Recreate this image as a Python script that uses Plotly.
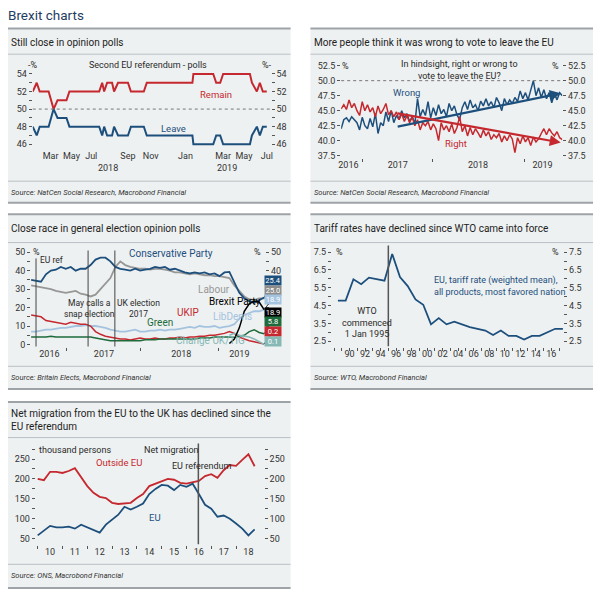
import plotly.graph_objects as go

W, H = 600, 597
def fx(p): return p / W
def fy(p): return 1 - p / H

FONT = "Roboto"
BLUE = "#1d4f7d"
RED = "#c5282f"
TXT = "#2a2a2a"
BG = "#eef1f1"

# ---------------- Panel 1 data: Second EU referendum polls ----------------
poll_idx = [0, 4, 7, 16, 21, 25, 34, 37, 67, 70, 72, 75, 80, 82, 86, 96, 99, 112, 115,
            161, 162, 182, 185, 189, 192, 219, 221, 226, 229, 232, 236]
remain = [52, 53, 52, 52, 50, 51, 51, 52, 52, 53, 52, 53, 53, 52, 53, 53, 52, 52, 53,
          53, 54, 54, 53, 53, 54, 54, 53, 52, 53, 52, 52]
leave = [48, 47, 48, 48, 50, 49, 49, 48, 48, 47, 48, 47, 47, 48, 47, 47, 48, 48, 47,
         47, 46, 46, 47, 47, 46, 46, 47, 48, 47, 48, 48]
p1_month_pos = [18, 39, 59, 96, 119, 154, 192, 213, 236]
p1_months = ["Mar", "May", "Jul", "Sep", "Nov", "Jan", "Mar", "May", "Jul"]
p1_year_pos = [76, 196]
p1_years = ["2018", "2019"]
p1_yticks = [46, 47, 48, 49, 50, 51, 52, 53, 54]
parity = 50

# ---------------- Panel 2 data: right or wrong to leave ----------------
wrong = [42.0, 43.5, 43.8, 43.2, 44.0, 43.5, 43.0, 41.8, 43.9, 42.5, 42.0, 43.7, 42.3, 44.5,
         41.2, 43.0, 42.5, 44.8, 43.2, 45.0, 43.0, 44.2, 43.5, 45.0, 43.8, 44.5, 43.2, 44.0,
         42.8, 47.0, 44.0, 45.2, 44.2, 46.5, 43.8, 45.5, 44.2, 46.0, 44.5, 45.2, 44.0, 46.2,
         45.0, 45.8, 44.3, 43.5, 45.5, 46.5, 45.2, 46.8, 45.5, 46.0, 45.0, 46.6, 45.8, 47.0,
         45.8, 46.5, 45.5, 47.2, 46.3, 45.0, 47.0, 46.0, 46.8, 46.2, 47.2, 46.5, 48.3, 47.0,
         48.0, 46.8, 48.5, 50.0, 47.5, 48.8, 47.2, 48.5, 47.0, 48.0, 46.3, 47.8, 46.8, 48.0, 47.5]
right = [45.3, 46.0, 45.2, 46.8, 45.5, 46.2, 45.0, 44.2, 46.5, 45.0, 46.0, 44.8, 45.5, 44.0,
         45.8, 44.5, 45.2, 46.2, 44.3, 45.0, 44.0, 44.8, 43.5, 44.5, 43.2, 44.2, 43.0, 44.0,
         42.5, 43.5, 41.8, 43.0, 42.5, 43.2, 41.8, 42.8, 42.0, 40.0, 43.0, 41.8, 42.5, 41.5,
         42.8, 41.2, 42.2, 44.0, 41.5, 42.5, 40.8, 42.2, 41.0, 42.0, 41.3, 40.5, 41.8, 40.8,
         41.5, 40.2, 41.0, 40.5, 41.2, 39.8, 40.8, 40.0, 41.0, 40.3, 38.0, 40.5, 39.5, 40.8,
         39.8, 40.5, 39.2, 40.6, 39.8, 40.3, 41.2, 42.0, 41.0, 42.0, 41.3, 40.8, 41.5, 40.5, 40.2]
p2_idx = list(range(len(wrong)))
trend_x = [20.9, 83.4]
wrong_trend = [42.3, 47.9]
right_trend = [44.6, 39.7]
p2_year_pos = [2.75, 21.5, 52, 76.5]
p2_years = ["2016", "2017", "2018", "2019"]
p2_year_breaks = [8.1, 34.6, 69.6]
p2_yticks = [37.5, 40.0, 42.5, 45.0, 47.5, 50.0, 52.5]

# ---------------- Panel 3 data: general election polls ----------------
conservative = [35, 34.5, 34, 38, 40, 40.5, 42, 41, 42, 40, 41, 41, 43, 46, 47, 47, 45, 42, 41, 40.5,
                40, 41, 40, 40.5, 41, 42, 41.5, 42, 40.5, 41, 40, 39, 38.5, 39, 38.5, 39, 38, 38.5,
                37, 39, 39.3, 34, 28, 25, 23.5, 22.5, 24, 25.4]
labour = [32, 31.5, 31, 30.5, 30, 29, 28.5, 28, 28.5, 29, 27.5, 27, 26, 27, 30, 33, 36, 42, 45, 43,
          42, 41.5, 41, 41, 40.5, 41, 41, 40.5, 40, 39, 39, 38.5, 38, 38.5, 38, 37.5, 37.5, 37,
          37, 36.5, 36, 32, 29, 26, 24.5, 24, 25, 25.0]
ukip = [16, 15.5, 15, 13, 12.5, 12, 11.5, 11, 12, 11.5, 11, 11, 10, 7, 5.5, 4.5, 4, 3.5, 3, 3,
        2.5, 3, 3.5, 3, 3, 3.5, 3, 3, 3.5, 3.5, 4, 3.5, 4, 4, 4.5, 4.5, 5, 5, 5.5, 6, 7, 6, 4,
        3, 2, 1.5, 1, 0.2]
libdem = [7, 7, 7.5, 8, 8, 8.5, 9, 9, 9.5, 10, 10, 10.5, 10, 10, 9.5, 9, 8, 7.5, 7, 7, 7.5, 8, 7,
          7, 7.5, 7.5, 8, 7.5, 8, 8, 8.5, 9, 9.5, 9, 10, 9.5, 9.5, 10, 9, 9.5, 10, 11, 14, 16, 17,
          18, 18, 18.9]
green = [4, 4, 4, 4, 4.5, 4, 4, 4, 4, 4, 4, 4, 4, 3.5, 3, 2.5, 2, 2, 2, 2, 2, 2, 2, 2.5, 2.5, 2.5,
         3, 3, 3, 3, 3, 3, 3, 3, 3.5, 3.5, 3.5, 4, 4, 4, 4, 4, 4.5, 5, 7, 8, 6.5, 5.8]
brexit = [None] * 40 + [0.5, 3, 9, 18, 22, 23.5, 23, 18.9]
changeuk = [None] * 40 + [5, 6, 5, 4.5, 4, 3, 1.5, 0.1]
p3_idx = list(range(len(conservative)))
p3_events = [1, 11.5, 16.9]
p3_year_pos = [3.7, 14.7, 30.3, 42]
p3_years = ["2016", "2017", "2018", "2019"]
p3_year_breaks = [7.1, 22.1, 37.9]
p3_yticks = [0, 5, 10, 15, 20, 25, 30, 35, 40, 45, 50]
p3_end_labels = ["25.4", "25.0", "18.9", "18.9", "5.8", "0.2", "0.1"]

# ---------------- Panel 4 data: EU tariff rate ----------------
tariff_years = list(range(1988, 2018))
tariff = [4.78, 4.78, 5.98, 5.7, 6.07, 5.98, 5.9, 7.4, 6.1, 5.6, 4.85, 4.55, 3.45, 3.8, 3.45,
          3.6, 3.45, 3.3, 3.2, 3.1, 2.85, 3.1, 2.8, 2.8, 2.6, 2.8, 2.8, 3.0, 3.2, 3.2]
wto_start = 1995.0
p4_label_years = list(range(1990, 2017, 2))
p4_labels = ["90", "92", "94", "96", "98", "00", "02", "04", "06", "08", "10", "12", "14", "16"]
p4_yticks = [2.5, 3.0, 3.5, 4.0, 4.5, 5.0, 5.5, 6.0, 6.5, 7.0, 7.5]

# ---------------- Panel 5 data: net migration ----------------
eu_net = [58, 70, 82, 78, 78, 80, 75, 85, 78, 72, 65, 85, 98, 110, 130, 123, 130, 138, 162, 175,
          185, 183, 172, 185, 180, 188, 162, 135, 125, 105, 108, 100, 88, 75, 58, 73]
non_eu_net = [200, 197, 218, 218, 215, 220, 227, 205, 182, 165, 155, 152, 140, 137, 138, 140, 152,
              162, 182, 188, 195, 200, 198, 190, 188, 192, 195, 207, 212, 203, 222, 235, 233, 248,
              262, 232]
mig_t = [2010 + 0.25 * i for i in range(len(eu_net))]
referendum = 2016.48
p5_years = list(range(2010, 2019))
p5_labels = ["10", "11", "12", "13", "14", "15", "16", "17", "18"]
p5_yticks = [50, 75, 100, 125, 150, 175, 200, 225, 250, 275]

fig = go.Figure()

def line(x, y, xa, ya, color, width=1.8, name=""):
    fig.add_trace(go.Scatter(x=x, y=y, xaxis=xa, yaxis=ya, mode="lines", name=name,
                             line=dict(color=color, width=width), showlegend=False,
                             hoverinfo="skip", connectgaps=False))

def dummy(xa, ya):
    fig.add_trace(go.Scatter(x=[None], y=[None], xaxis=xa, yaxis=ya, mode="lines",
                             showlegend=False, hoverinfo="skip"))

# panel 1
line(poll_idx, remain, "x", "y", RED, 2, "Remain")
line(poll_idx, leave, "x", "y", BLUE, 2, "Leave")
dummy("x", "y2")
# panel 2
line(p2_idx, wrong, "x2", "y3", BLUE, 1.5, "Wrong")
line(p2_idx, right, "x2", "y3", RED, 1.5, "Right")
dummy("x2", "y4")
# panel 3
line(p3_idx, labour, "x3", "y5", "#979797", 1.8, "Labour")
line(p3_idx, conservative, "x3", "y5", BLUE, 1.8, "Conservative")
line(p3_idx, libdem, "x3", "y5", "#a4c3df", 1.8, "LibDem")
line(p3_idx, ukip, "x3", "y5", RED, 1.5, "UKIP")
line(p3_idx, green, "x3", "y5", "#1e6b3c", 1.5, "Green")
line(p3_idx, changeuk, "x3", "y5", "#86b8b6", 1.5, "Change UK")
line(p3_idx, brexit, "x3", "y5", "#000000", 1.5, "Brexit Party")
dummy("x3", "y6")
# panel 4
line([y + 0.5 for y in tariff_years], tariff, "x4", "y7", BLUE, 1.8, "Tariff")
dummy("x4", "y8")
# panel 5
line(mig_t, non_eu_net, "x5", "y9", RED, 1.8, "Outside EU")
line(mig_t, eu_net, "x5", "y9", BLUE, 1.8, "EU")
dummy("x5", "y10")

TICKFONT = dict(family=FONT, size=9, color="#333")

def yax(top, bottom, rng, vals, texts, side, anchor, overlaying=None):
    d = dict(domain=[fy(bottom), fy(top)], range=rng, tickvals=vals, ticktext=texts,
             ticks="outside", ticklen=3, tickcolor="#555", tickwidth=1, showgrid=False,
             zeroline=False, showline=False, tickfont=TICKFONT, side=side, anchor=anchor,
             fixedrange=True)
    if overlaying:
        d["overlaying"] = overlaying
    return d

def xax(left, right, rng, vals, texts, minor_vals, anchor):
    return dict(domain=[fx(left), fx(right)], range=rng, tickvals=vals, ticktext=texts,
                ticks="", showgrid=False, zeroline=False, showline=False, tickfont=TICKFONT,
                anchor=anchor, fixedrange=True,
                minor=dict(tickvals=minor_vals, ticks="outside", ticklen=3, tickcolor="#555"))

def lab(vals, every, fmt, keep=None):
    out = []
    for i, v in enumerate(vals):
        show = (i % every == 0) and (keep is None or v in keep)
        out.append(fmt(v) if show else "")
    return out

layout = dict(
    width=W, height=H, margin=dict(l=0, r=0, t=0, b=0),
    paper_bgcolor="white", plot_bgcolor="rgba(0,0,0,0)",
    font=dict(family=FONT, color=TXT),
    xaxis=xax(30, 270, [0, 240], p1_month_pos, p1_months, [], "y"),
    yaxis=yax(62.8, 147.1, [45.5, 55], p1_yticks, lab(p1_yticks, 2, lambda v: f"{v}"), "left", "x"),
    yaxis2=yax(62.8, 147.1, [45.5, 55], p1_yticks, lab(p1_yticks, 2, lambda v: f"{v}"), "right", "x", "y"),
    xaxis2=xax(341, 564, [0, 84], p2_year_pos, p2_years, p2_year_breaks, "y3"),
    yaxis3=yax(58, 157, [37.05, 53.37], p2_yticks, [f"{v:.1f}" for v in p2_yticks], "left", "x2"),
    yaxis4=yax(58, 157, [37.05, 53.37], p2_yticks, [f"{v:.1f}" for v in p2_yticks], "right", "x2", "y3"),
    xaxis3=xax(28.3, 264.3, [0, 47.2], p3_year_pos, p3_years, p3_year_breaks, "y5"),
    yaxis5=yax(250, 347, [-1.1, 50.9], p3_yticks, lab(p3_yticks, 2, lambda v: f"{v}"), "left", "x3"),
    yaxis6=yax(250, 347, [-1.1, 50.9], p3_yticks,
               lab(p3_yticks, 2, lambda v: f"{v}", keep=(40, 50)), "right", "x3", "y5"),
    xaxis4=xax(331.7, 565, [1987.73, 2017.55], p4_label_years, p4_labels, tariff_years, "y7"),
    yaxis7=yax(246, 347, [2.206, 7.817], p4_yticks, lab(p4_yticks, 2, lambda v: f"{v:.1f}"), "left", "x4"),
    yaxis8=yax(246, 347, [2.206, 7.817], p4_yticks, lab(p4_yticks, 2, lambda v: f"{v:.1f}"), "right", "x4", "y7"),
    xaxis5=xax(33, 263, [2009.92, 2019.12], [y + 0.5 for y in p5_years], p5_labels, p5_years, "y9"),
    yaxis9=yax(448, 547, [35.1, 281.6], p5_yticks, lab(p5_yticks, 2, lambda v: f"{v}"), "left", "x5"),
    yaxis10=yax(448, 547, [35.1, 281.6], p5_yticks, lab(p5_yticks, 2, lambda v: f"{v}"), "right", "x5", "y9"),
)
fig.update_layout(**layout)

shapes = []
anns = []

def rect(x0, y0, x1, y1, color):
    shapes.append(dict(type="rect", xref="paper", yref="paper", x0=fx(x0), x1=fx(x1),
                       y0=fy(y1), y1=fy(y0), fillcolor=color, line=dict(width=0), layer="below"))

def hline(x0, x1, y, color, width):
    shapes.append(dict(type="line", xref="paper", yref="paper", x0=fx(x0), x1=fx(x1),
                       y0=fy(y), y1=fy(y), line=dict(color=color, width=width)))

def text(x, y, s, size=9, color=TXT, xanchor="center", italic=False, align="center"):
    if xanchor == "left":
        x -= 2.5
    anns.append(dict(xref="paper", yref="paper", x=fx(x), y=fy(y), text=s, showarrow=False,
                     xanchor=xanchor, yanchor="middle", align=align,
                     font=dict(family=FONT, size=size, color=color,
                               style="italic" if italic else "normal")))

panels = [
    (5, 290, 25.7, 51.7, 180, 201.7, 40, 191, "Still close in opinion polls",
     "Source: NatCen Social Research, Macrobond Financial"),
    (310, 595, 25.7, 51.7, 180, 201.7, 40, 191, "More people think it was wrong to vote to leave the EU",
     "Source: NatCen Social Research, Macrobond Financial"),
    (5, 290, 213.5, 242, 367, 390, 228, 378, "Close race in general election opinion polls",
     "Source: Britain Elects, Macrobond Financial"),
    (310, 595, 213.5, 242, 367, 390, 228, 378, "Tariff rates have declined since WTO came into force",
     "Source: WTO, Macrobond Financial"),
    (5, 290, 403, 439, 567, 591, 421.5, 578,
     "Net migration from the EU to the UK has declined since the<br>EU referendum",
     "Source: ONS, Macrobond Financial"),
]
for (x0, x1, top, s1, s2, bot, ty, sy, title, src) in panels:
    rect(x0, top, x1, bot, BG)
    hline(x0, x1, top, "#9ea3a8", 2)
    hline(x0, x1, s1, "#b9c0c6", 1)
    hline(x0, x1, s2, "#b9c0c6", 1)
    hline(x0, x1, bot, "#9ea3a8", 2)
    text(x0 + 4, ty, title, size=10, color="#222", xanchor="left", align="left")
    text(x0 + 4, sy, src, size=7.5, color="#333", xanchor="left", italic=True)

text(6, 12, "Brexit charts", size=13.5, color="#1f3d63", xanchor="left")

# --- panel 1 annotations
shapes.append(dict(type="line", xref="x domain", yref="y", x0=0, x1=1, y0=parity, y1=parity,
                   line=dict(color="#777", width=1, dash="dot")))
text(36, 62.7, "-%", xanchor="right")
text(262, 62.7, "%-", xanchor="left")
text(146.7, 62.7, "Second EU referendum - polls", size=9)
text(215, 92.7, "Remain", size=9.5, color=RED)
text(171.7, 126.7, "Leave", size=9.5, color=BLUE)
for xp, s in zip(p1_year_pos, p1_years):
    anns.append(dict(xref="x", yref="paper", x=xp, y=fy(166.5), text=s, showarrow=False,
                     yanchor="middle", font=dict(family=FONT, size=9, color="#333")))

# --- panel 2 annotations
shapes.append(dict(type="line", xref="x2 domain", yref="y3", x0=0, x1=1, y0=parity, y1=parity,
                   line=dict(color="#777", width=1, dash="dot")))
text(345.5, 63.3, "%")
text(557.5, 63.3, "%")
text(460, 68, "In hindsight, right or wrong to<br>vote to leave the EU?", size=9)
text(406.7, 90.7, "Wrong", size=9.5, color=BLUE)
text(456.7, 141.7, "Right", size=9.5, color=RED)
for tr, col in ((wrong_trend, BLUE), (right_trend, RED)):
    anns.append(dict(xref="x2", yref="y3", axref="x2", ayref="y3", x=trend_x[1], y=tr[1],
                     ax=trend_x[0], ay=tr[0], showarrow=True, arrowhead=2, arrowsize=1,
                     arrowwidth=2.2, arrowcolor=col, text=""))

# --- panel 3 annotations
for ev, top in zip(p3_events, (258, 250, 250)):
    shapes.append(dict(type="line", xref="x3", yref="paper", x0=ev, x1=ev, y0=fy(347), y1=fy(top),
                       line=dict(color="#444", width=1)))
text(33.5, 252, "%")
text(256.5, 252, "%")
text(38, 260, "EU ref", size=8.5, xanchor="left")
text(87, 308.5, "May calls a<br>snap election", size=8.5)
text(137, 308.5, "UK election<br>2017", size=8.5)
text(169, 253, "Conservative Party", size=10, color=BLUE)
text(213, 289, "Labour", size=10, color="#979797")
text(234, 302, "Brexit Party", size=10, color="#000")
text(187, 313, "UKIP", size=10, color=RED)
text(231, 317, "LibDems", size=10, color="#a4c3df")
text(158, 323, "Green", size=10, color="#1e6b3c")
text(209, 341, "Change UK/TIG", size=10, color="#86b8b6")
end_series = [conservative, labour, libdem, brexit, green, ukip, changeuk]
box_cols = [BLUE, "#8c8c8c", "#a4c3df", "#000000", "#1e6b3c", RED, "#86b8b6"]
box_y = [34.4, 29.5, 24.6, 17.3, 12.3, 7.1, 1.8]
for ser, col, by, s in zip(end_series, box_cols, box_y, p3_end_labels):
    anns.append(dict(xref="x3", yref="y5", axref="x3", ayref="y5", x=p3_idx[-1], y=ser[-1],
                     ax=48.7, ay=by, text=s, showarrow=True, arrowhead=0, arrowwidth=0.8,
                     arrowcolor="#111", bgcolor=col, width=15, height=8, borderpad=0.5,
                     font=dict(family=FONT, size=7.5, color="white")))

# --- panel 4 annotations
shapes.append(dict(type="line", xref="x4", yref="paper", x0=wto_start, x1=wto_start,
                   y0=fy(346.7), y1=fy(245), line=dict(color="#555", width=1.5)))
text(339.5, 251.7, "%")
text(557, 251.7, "%")
text(435, 286, "EU, tariff rate (weighted mean),<br>all products, most favored nation",
     size=9, color=BLUE, xanchor="left", align="left")
text(366.7, 322.5, "WTO<br>commenced<br>1 Jan 1995", size=9)

# --- panel 5 annotations
shapes.append(dict(type="line", xref="x5", yref="paper", x0=referendum, x1=referendum,
                   y0=fy(546.7), y1=fy(445), line=dict(color="#555", width=1.5)))
text(37, 451.7, "thousand persons", size=9, xanchor="left")
text(170, 451.7, "Net migration", size=9)
text(116.7, 464, "Outside EU", size=9.5, color=RED)
text(171, 468, "EU referendum", size=9, xanchor="left")
text(153, 520, "EU", size=9.5, color=BLUE)

fig.update_layout(shapes=shapes, annotations=anns)
fig.write_html("out.html", config={"displayModeBar": False},
               post_script="document.body.style.margin='0px';document.body.style.overflow='hidden';")
